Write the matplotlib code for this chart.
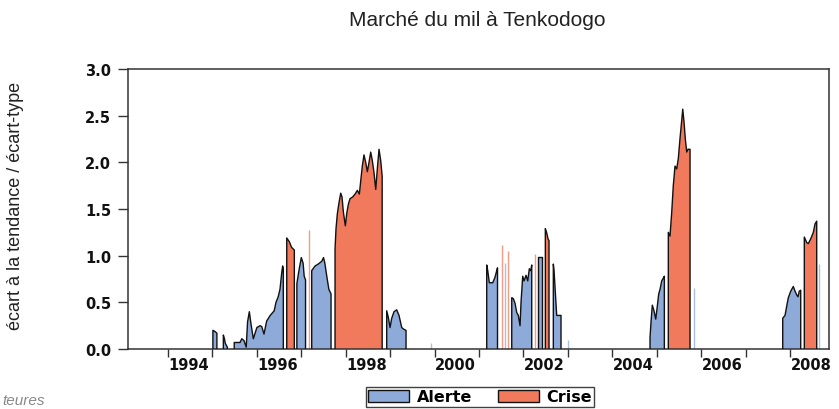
import matplotlib
matplotlib.use("Agg")
import matplotlib.pyplot as plt
from matplotlib.patches import Patch

# écart à la tendance / écart-type, one pair of lists per episode (decimal year, value)
al_95a_x = [1995.01, 1995.05, 1995.10]
al_95a_y = [0.20, 0.19, 0.17]
al_95b_x = [1995.245, 1995.27, 1995.29, 1995.335]
al_95b_y = [0.15, 0.11, 0.06, 0.02]
al_96_x = [1995.49, 1995.62, 1995.66, 1995.71, 1995.76, 1995.79, 1995.83, 1995.87,
           1995.92, 1996.00, 1996.07, 1996.11, 1996.16, 1996.22, 1996.30, 1996.39,
           1996.43, 1996.48, 1996.52, 1996.56, 1996.58, 1996.595]
al_96_y = [0.07, 0.07, 0.11, 0.09, 0.02, 0.29, 0.40, 0.26,
           0.11, 0.23, 0.25, 0.24, 0.16, 0.30, 0.36, 0.41,
           0.50, 0.56, 0.64, 0.82, 0.89, 0.86]
cr_96_x = [1996.672, 1996.73, 1996.78, 1996.843]
cr_96_y = [1.19, 1.15, 1.09, 1.06]
al_97a_x = [1996.90, 1996.95, 1997.00, 1997.04, 1997.065, 1997.095]
al_97a_y = [0.70, 0.85, 0.98, 0.92, 0.78, 0.74]
al_97b_x = [1997.234, 1997.31, 1997.38, 1997.46, 1997.50, 1997.53, 1997.57, 1997.62, 1997.669]
al_97b_y = [0.84, 0.89, 0.91, 0.94, 0.98, 0.92, 0.79, 0.64, 0.59]
cr_98_x = [1997.759, 1997.781, 1997.811, 1997.849, 1997.887, 1997.916, 1997.946, 1997.991,
           1998.022, 1998.058, 1998.096, 1998.157, 1998.209, 1998.261, 1998.306, 1998.337,
           1998.373, 1998.411, 1998.449, 1998.486, 1998.524, 1998.562, 1998.598, 1998.636,
           1998.675, 1998.711, 1998.749, 1998.787, 1998.82]
cr_98_y = [1.07, 1.29, 1.45, 1.57, 1.67, 1.63, 1.47, 1.32,
           1.45, 1.55, 1.61, 1.63, 1.66, 1.70, 1.66, 1.80,
           1.96, 2.08, 2.00, 1.90, 2.00, 2.11, 2.02, 1.89,
           1.71, 1.93, 2.14, 2.02, 1.85]
al_99_x = [1998.922, 1998.958, 1998.997, 1999.035, 1999.087, 1999.147, 1999.199, 1999.260,
           1999.312, 1999.357]
al_99_y = [0.41, 0.34, 0.23, 0.33, 0.40, 0.42, 0.36, 0.23, 0.21, 0.20]
al_01a_x = [2001.173, 2001.196, 2001.232, 2001.308, 2001.36, 2001.398, 2001.416]
al_01a_y = [0.90, 0.84, 0.71, 0.71, 0.77, 0.84, 0.87]
al_01b_x = [2001.736, 2001.772, 2001.810, 2001.849, 2001.884, 2001.923, 2001.945, 2001.983,
            2002.013, 2002.058, 2002.096, 2002.132, 2002.164, 2002.186]
al_01b_y = [0.55, 0.54, 0.49, 0.39, 0.36, 0.25, 0.50, 0.78,
            0.73, 0.79, 0.73, 0.86, 0.84, 0.90]
al_02a_x = [2002.335, 2002.425]
al_02a_y = [0.99, 0.99]
cr_02_x = [2002.492, 2002.52, 2002.553, 2002.575]
cr_02_y = [1.29, 1.25, 1.18, 1.16]
al_02b_x = [2002.672, 2002.687, 2002.717, 2002.748, 2002.845]
al_02b_y = [0.91, 0.85, 0.61, 0.36, 0.36]
al_05_x = [2004.848, 2004.871, 2004.900, 2004.938, 2004.977, 2005.013, 2005.044, 2005.074,
           2005.112, 2005.148, 2005.171]
al_05_y = [0.12, 0.29, 0.47, 0.41, 0.32, 0.46, 0.59, 0.64, 0.73, 0.76, 0.78]
cr_05_x = [2005.260, 2005.298, 2005.336, 2005.372, 2005.411, 2005.449, 2005.485, 2005.524,
           2005.562, 2005.585, 2005.614, 2005.643, 2005.675, 2005.704, 2005.734, 2005.749]
cr_05_y = [1.25, 1.21, 1.46, 1.75, 1.96, 1.93, 2.04, 2.26,
           2.45, 2.57, 2.43, 2.25, 2.11, 2.14, 2.14, 2.14]
al_08_x = [2007.835, 2007.887, 2007.925, 2007.961, 2008.015, 2008.073, 2008.112, 2008.15,
           2008.179, 2008.208, 2008.24]
al_08_y = [0.33, 0.36, 0.46, 0.55, 0.62, 0.67, 0.62, 0.58, 0.56, 0.62, 0.63]
cr_08_x = [2008.321, 2008.375, 2008.411, 2008.465, 2008.524, 2008.562, 2008.6]
cr_08_y = [1.20, 1.14, 1.13, 1.18, 1.25, 1.34, 1.37]

# isolated observations (single weeks)
al_single_x = [1999.913, 2001.59, 2003.01, 2005.839, 2008.654]
al_single_y = [0.06, 0.92, 0.10, 0.65, 0.91]
cr_single_x = [1997.18, 2001.507, 2001.646, 2002.26]
cr_single_y = [1.28, 1.11, 1.05, 1.02]

alerte = [(al_95a_x, al_95a_y), (al_95b_x, al_95b_y), (al_96_x, al_96_y),
          (al_97a_x, al_97a_y), (al_97b_x, al_97b_y), (al_99_x, al_99_y),
          (al_01a_x, al_01a_y), (al_01b_x, al_01b_y), (al_02a_x, al_02a_y),
          (al_02b_x, al_02b_y), (al_05_x, al_05_y), (al_08_x, al_08_y)]
crise = [(cr_96_x, cr_96_y), (cr_98_x, cr_98_y), (cr_02_x, cr_02_y),
         (cr_05_x, cr_05_y), (cr_08_x, cr_08_y)]

year_ticks = list(range(1994, 2009))
label_years = [1994, 1996, 1998, 2000, 2002, 2004, 2006, 2008]

BLUE = "#8eaad9"
RED = "#f27a5c"

fig = plt.figure(figsize=(8.39, 4.10), dpi=100)
ax = fig.add_axes([0.1526, 0.1463, 0.8355, 0.6829])


def draw_episode(x, y, color):
    px = [x[0]] + list(x) + [x[-1]]
    py = [0] + list(y) + [0]
    ax.fill(px, py, facecolor=color, edgecolor="none", zorder=2)
    ax.plot(px, py, color="#111111", lw=1.0, zorder=3)


for x, y in alerte:
    draw_episode(x, y, BLUE)
for x, y in crise:
    draw_episode(x, y, RED)

ax.vlines(al_single_x, 0, al_single_y, color=BLUE, lw=1.0, alpha=0.75, zorder=2)
ax.vlines(cr_single_x, 0, cr_single_y, color=RED, lw=1.0, alpha=0.75, zorder=2)

ax.set_xlim(1993.10, 2008.877)
ax.set_ylim(0, 3.0)

tick_font = dict(family="DejaVu Sans", size=10.5, weight="bold")
ax.set_yticks([0, 0.5, 1.0, 1.5, 2.0, 2.5, 3.0])
ax.set_yticklabels(["%.1f" % v for v in ax.get_yticks()], **tick_font)
ax.set_xticks([yr + 0.47 for yr in label_years])
ax.set_xticklabels([str(yr) for yr in label_years], **tick_font)
ax.set_xticks(year_ticks, minor=True)
ax.tick_params(axis="x", which="major", length=0, pad=6, colors="#111111")
ax.tick_params(axis="x", which="minor", length=6, width=1.0, direction="out", color="#333333")
ax.tick_params(axis="y", length=7, width=1.0, direction="out", pad=5, color="#333333",
               labelcolor="#111111")
for s in ax.spines.values():
    s.set_color("#333333")
    s.set_linewidth(1.1)

fig.text(0.5685, 0.951, "Marché du mil à Tenkodogo", ha="center", va="center",
         family="Liberation Sans", fontsize=15, color="#222222")
fig.text(0.018, 0.497, "écart à la tendance / écart-type", rotation=90, ha="center",
         va="center", family="Liberation Sans", fontsize=13, color="#222222")
fig.text(0.003, 0.022, "teures", ha="left", va="center", family="Liberation Sans",
         style="italic", fontsize=11, color="#888888")

handles = [Patch(facecolor=BLUE, edgecolor="#111111", label="Alerte"),
           Patch(facecolor=RED, edgecolor="#111111", label="Crise")]
leg = fig.legend(handles=handles, loc="center", bbox_to_anchor=(0.572, 0.03), ncol=2,
                 frameon=True, fancybox=False, edgecolor="#111111",
                 prop=dict(family="DejaVu Sans", size=11.5, weight="bold"),
                 handlelength=2.6, handleheight=0.8, handletextpad=0.45,
                 columnspacing=1.6, borderpad=0.15, borderaxespad=0)
leg.get_frame().set_linewidth(1.0)

fig.savefig("out.png", dpi=100)
plt.close(fig)
